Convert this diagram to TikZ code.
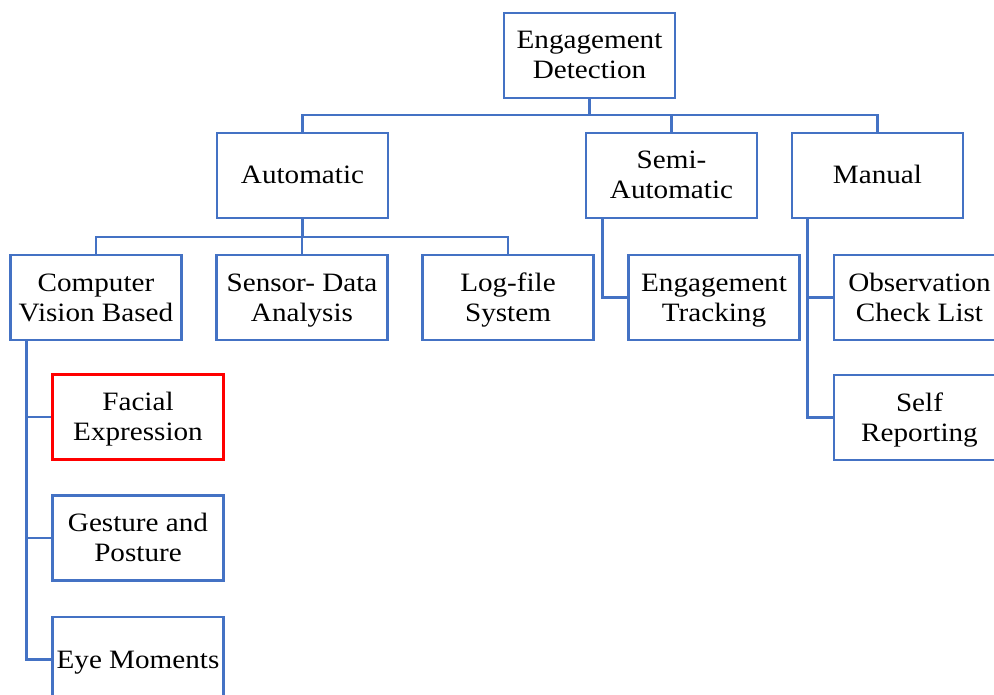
\documentclass[tikz,border=0pt]{standalone}
\usepackage{fontspec}
\setmainfont{Liberation Serif}[FakeStretch=1.1]
\definecolor{lineblue}{RGB}{68,114,196}
\definecolor{boxred}{RGB}{255,0,0}
\newcommand\sx{\rule[-6.5pt]{0pt}{30pt}}
\begin{document}
\begin{tikzpicture}[x=1pt,y=-1pt,
  box/.style={draw=lineblue, line width=2.3pt, fill=white, rectangle,
    minimum width=171pt, minimum height=85pt, inner sep=0pt,
    align=center, font=\fontsize{26.5}{30}\selectfont},
  redbox/.style={box, draw=boxred},
  conn/.style={draw=lineblue, line width=2.8pt}]
\useasboundingbox (0,0) rectangle (994,695);
\clip (0,0) rectangle (994,695);
% connectors first
\coordinate (b1) at (589.5,115);
\coordinate (b2) at (302.5,237);
\coordinate (pa) at (589.5,98);
\coordinate (pb) at (302.5,218);
\draw[conn] (pa) -- (b1);
\draw[conn] (b1) -| (302.5,133);
\draw[conn] (b1) -| (671.5,133);
\draw[conn] (b1) -| (877.5,133);
\draw[conn] (pb) -- (b2);
\draw[conn] (b2) -| (96,255);
\draw[conn] (b2) -| (302,255);
\draw[conn] (b2) -| (508,255);
% nodes
\node[box] (top) at (589.5,55.5) {\sx Engagement\\\sx Detection};
\node[box] (auto) at (302.5,175.5) {\sx Automatic};
\node[box] (semi) at (671.5,175.5) {\sx Semi-\\\sx Automatic};
\node[box] (manual) at (877.5,175.5) {\sx Manual};
\node[box] (cv) at (96,297.5) {\sx Computer\\\sx Vision Based};
\node[box] (sensor) at (302,297.5) {\sx Sensor- Data\\\sx Analysis};
\node[box] (log) at (508,297.5) {\sx Log-file\\\sx System};
\node[box] (track) at (714,297.5) {\sx Engagement\\\sx Tracking};
\node[box] (obs) at (919.5,297.5) {\sx Observation\\\sx Check List};
\node[box] (self) at (919.5,417.5) {\sx Self\\\sx Reporting};
\node[redbox] (facial) at (138,417) {\sx Facial\\\sx Expression};
\node[box] (gesture) at (138,538) {\sx Gesture and\\\sx Posture};
\node[box] (eye) at (138,659.5) {\sx Eye Moments};
% side connectors
\draw[conn] ([xshift=18pt]semi.south west) |- (track.west);
\draw[conn] ([xshift=17pt]manual.south west) |- (obs.west);
\draw[conn] ([xshift=17pt]manual.south west) |- (self.west);
\draw[conn] ([xshift=17pt]cv.south west) |- (facial.west);
\draw[conn] ([xshift=17pt]cv.south west) |- (gesture.west);
\draw[conn] ([xshift=17pt]cv.south west) |- (eye.west);
\end{tikzpicture}
\end{document}
